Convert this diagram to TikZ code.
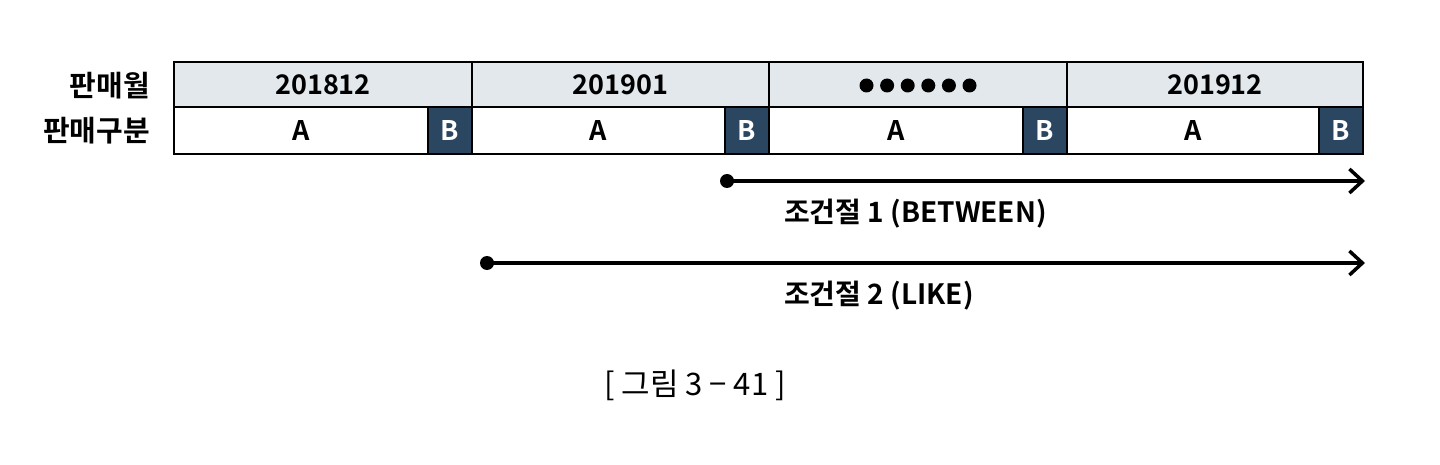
\documentclass[tikz,border=0pt]{standalone}
\usepackage{fontspec}
\setmainfont{Noto Sans CJK KR}[BoldFont={Noto Sans CJK KR Bold}]
\usetikzlibrary{arrows.meta,calc}
\definecolor{hdr}{RGB}{226,232,236}
\definecolor{bfill}{RGB}{42,70,96}
\begin{document}
\begin{tikzpicture}[x=1pt,y=-1pt,
  cell/.style={draw=black,line width=1.5pt,inner sep=0pt,outer sep=0pt,font=\fontsize{27}{27}\selectfont\bfseries},
  hcell/.style={cell,fill=hdr,minimum height=45pt},
  acell/.style={cell,fill=white,minimum height=47pt},
  bcell/.style={cell,fill=bfill,text=white,minimum width=44pt,minimum height=47pt},
  rowlab/.style={anchor=east,inner sep=0pt,font=\fontsize{29}{29}\selectfont\bfseries},
  dotnode/.style={circle,fill=black,inner sep=0pt,minimum size=14pt},
  arr/.style={line width=3.5pt,-{Straight Barb[length=13pt,width=24pt,line width=3.5pt]}},
  lab/.style={anchor=west,inner sep=0pt,font=\fontsize{28}{28}\selectfont\bfseries},
  captext/.style={inner sep=0pt,font=\fontsize{31}{31}\selectfont}
]
\useasboundingbox (0,0) rectangle (1440,465);
% header row
\node[hcell,minimum width=298pt] (h1) at (323,84.5) {201812};
\node[hcell,minimum width=297pt] (h2) at (620.5,84.5) {201901};
\node[hcell,minimum width=298pt] (h3) at (918,84.5) {};
\foreach \i in {0,...,5} \fill ($(h3.center)+(-51.5+20.6*\i,1)$) circle (7pt);
\node[hcell,minimum width=296pt] (h4) at (1215,84.5) {201912};
% second row
\node[acell,minimum width=254pt] (a1) at (301,130.5) {A};
\node[bcell] (b1) at (450,130.5) {B};
\node[acell,minimum width=253pt] (a2) at (598.5,130.5) {A};
\node[bcell] (b2) at (747,130.5) {B};
\node[acell,minimum width=254pt] (a3) at (896,130.5) {A};
\node[bcell] (b3) at (1045,130.5) {B};
\node[acell,minimum width=252pt] (a4) at (1193,130.5) {A};
\node[bcell] (b4) at (1341,130.5) {B};
% outer border
\draw[line width=2.5pt] (h1.north west) rectangle (b4.south east);
% row labels
\node[rowlab] (r1) at (150,86) {판매월};
\node[rowlab] (r2) at (150,131) {판매구분};
% arrows
\node[dotnode] (d1) at (727,181) {};
\coordinate (e1) at (1365,181);
\draw[arr] (d1.center) -- (e1);
\node[lab] (l1) at (784,214) {조건절 1 (BETWEEN)};
\node[dotnode] (d2) at (487,263) {};
\coordinate (e2) at (1365,263);
\draw[arr] (d2.center) -- (e2);
\node[lab] (l2) at (784,296) {조건절 2 (LIKE)};
% caption
\node[captext] (c) at (695,385) {[ 그림 3 − 41 ]};
\end{tikzpicture}
\end{document}
